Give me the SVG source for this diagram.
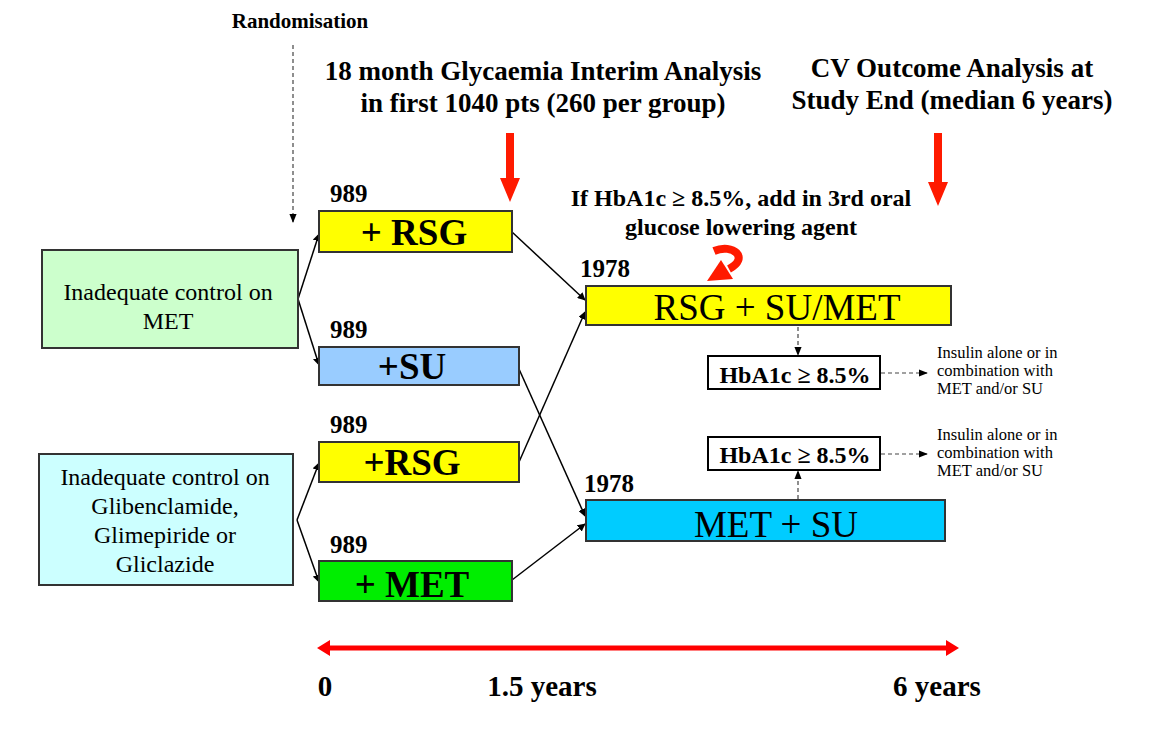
<svg xmlns="http://www.w3.org/2000/svg" width="1156" height="736" viewBox="0 0 1156 736">
<style>
text{font-family:"Liberation Serif","Times New Roman",serif;fill:#000}
.b{font-weight:bold}
.box{stroke:#333;stroke-width:2}
.con{stroke:#000;stroke-width:1.5;fill:none}
.dash{stroke:#444;stroke-width:1.2;fill:none;stroke-dasharray:4,3}
.lbl{font-weight:bold;font-size:25px}
.big{font-size:37px;text-anchor:middle}
.ins{font-size:16.5px}
.left{font-size:24px;text-anchor:middle}
.hb{font-weight:bold;font-size:24px;text-anchor:middle}
</style>
<defs>
<marker id="ah" viewBox="0 0 10 10" refX="9" refY="5" markerWidth="8" markerHeight="8" markerUnits="userSpaceOnUse" orient="auto"><path d="M0,0 L10,5 L0,10 z" fill="#000"/></marker>
<marker id="ahd" viewBox="0 0 10 10" refX="9" refY="5" markerWidth="9" markerHeight="9" markerUnits="userSpaceOnUse" orient="auto"><path d="M0,1 L10,5 L0,9 z" fill="#000"/></marker>
</defs>
<rect width="1156" height="736" fill="#fff"/>

<g id="headers">
<text x="300" y="28" class="b" font-size="21" text-anchor="middle">Randomisation</text>
<text x="543" y="80" class="b" font-size="27" text-anchor="middle">18 month Glycaemia Interim Analysis</text>
<text x="543" y="112" class="b" font-size="27" text-anchor="middle">in first 1040 pts (260 per group)</text>
<text x="952" y="77" class="b" font-size="27" text-anchor="middle">CV Outcome Analysis at</text>
<text x="952" y="109" class="b" font-size="27" text-anchor="middle">Study End (median 6 years)</text>
<text x="741" y="206" class="b" font-size="24" text-anchor="middle">If HbA1c ≥ 8.5%, add in 3rd oral</text>
<text x="741" y="235" class="b" font-size="24" text-anchor="middle">glucose lowering agent</text>
</g>

<g id="red-arrows" fill="#ff1a00">
<path d="M506,133 H514 V178 H520 L510,202 L500,178 H506 Z"/>
<path d="M934,133 H942 V182 H948 L938,206 L928,182 H934 Z"/>
<path d="M714,251 C733,243 750,258 729,269" fill="none" stroke="#ff1a00" stroke-width="8"/>
<path d="M707,281 L721,260 L733,279 Z"/>
</g>

<g id="connectors">
<path class="dash" d="M293,45 V222" marker-end="url(#ahd)"/>
<path class="con" d="M298,299 L319,234" marker-end="url(#ah)"/>
<path class="con" d="M298,299 L319,365" marker-end="url(#ah)"/>
<path class="con" d="M297,520 L319,463" marker-end="url(#ah)"/>
<path class="con" d="M297,520 L319,582" marker-end="url(#ah)"/>
<path class="con" d="M512,232 L585,300" marker-end="url(#ah)"/>
<path class="con" d="M519,462 L585,312" marker-end="url(#ah)"/>
<path class="con" d="M519,369 L585,516" marker-end="url(#ah)"/>
<path class="con" d="M512,580 L585,524" marker-end="url(#ah)"/>
<path class="dash" d="M798,327 V355" marker-end="url(#ahd)"/>
<path class="dash" d="M798,499 V471" marker-end="url(#ahd)"/>
<path class="dash" d="M881,373 H927" marker-end="url(#ahd)"/>
<path class="dash" d="M881,454 H927" marker-end="url(#ahd)"/>
</g>

<g id="n-met">
<rect class="box" x="42" y="250" width="256" height="98" fill="#ccffcc"/>
<text x="168" y="300" class="left">Inadequate control on</text>
<text x="168" y="329" class="left">MET</text>
</g>
<g id="n-su">
<rect class="box" x="39" y="454" width="254" height="131" fill="#ccffff"/>
<text x="165" y="485" class="left">Inadequate control on</text>
<text x="165" y="514" class="left">Glibenclamide,</text>
<text x="165" y="543" class="left">Glimepiride or</text>
<text x="165" y="572" class="left">Gliclazide</text>
</g>

<g id="n-rsg1">
<text x="330" y="202" class="lbl">989</text>
<rect class="box" x="319" y="211" width="193" height="41" fill="#ffff00"/>
<text x="414" y="245" class="big b" font-size="36">+ RSG</text>
</g>
<g id="n-su2">
<text x="330" y="338" class="lbl">989</text>
<rect class="box" x="319" y="347" width="200" height="38" fill="#99ccff"/>
<text x="412" y="379" class="big b">+SU</text>
</g>
<g id="n-rsg2">
<text x="330" y="433" class="lbl">989</text>
<rect class="box" x="319" y="442" width="200" height="40" fill="#ffff00"/>
<text x="412" y="475" class="big b">+RSG</text>
</g>
<g id="n-met2">
<text x="330" y="553" class="lbl">989</text>
<rect class="box" x="319" y="561" width="193" height="40" fill="#00ee00"/>
<text x="412" y="597" class="big b" font-size="36">+ MET</text>
</g>

<g id="n-rsgsumet">
<text x="580" y="277" class="lbl" font-size="27">1978</text>
<rect class="box" x="586" y="286" width="365" height="39" fill="#ffff00"/>
<text x="777" y="320" class="big" font-size="36.5">RSG + SU/MET</text>
</g>
<g id="n-metsu">
<text x="584" y="492" class="lbl" font-size="27">1978</text>
<rect class="box" x="586" y="500" width="359" height="41" fill="#00ccff"/>
<text x="776" y="537" class="big">MET + SU</text>
</g>

<g id="n-hb1">
<rect x="708" y="356" width="172" height="33" fill="#fff" stroke="#000" stroke-width="2"/>
<text x="795" y="383" class="hb">HbA1c ≥ 8.5%</text>
</g>
<g id="n-hb2">
<rect x="708" y="437" width="172" height="33" fill="#fff" stroke="#000" stroke-width="2"/>
<text x="795" y="463" class="hb">HbA1c ≥ 8.5%</text>
</g>
<g id="n-ins1">
<text x="937" y="358" class="ins">Insulin alone or in</text>
<text x="937" y="376" class="ins">combination with</text>
<text x="937" y="394" class="ins">MET and/or SU</text>
</g>
<g id="n-ins2">
<text x="937" y="440" class="ins">Insulin alone or in</text>
<text x="937" y="458" class="ins">combination with</text>
<text x="937" y="476" class="ins">MET and/or SU</text>
</g>

<g id="timeline">
<path d="M330,645.5 H946 V640 L959,648 L946,656 V650.5 H330 V656 L317,648 L330,640 Z" fill="#ff0000"/>
<text x="325" y="696" class="b" font-size="29" text-anchor="middle">0</text>
<text x="542" y="696" class="b" font-size="29" text-anchor="middle">1.5 years</text>
<text x="937" y="696" class="b" font-size="29" text-anchor="middle">6 years</text>
</g>
</svg>
